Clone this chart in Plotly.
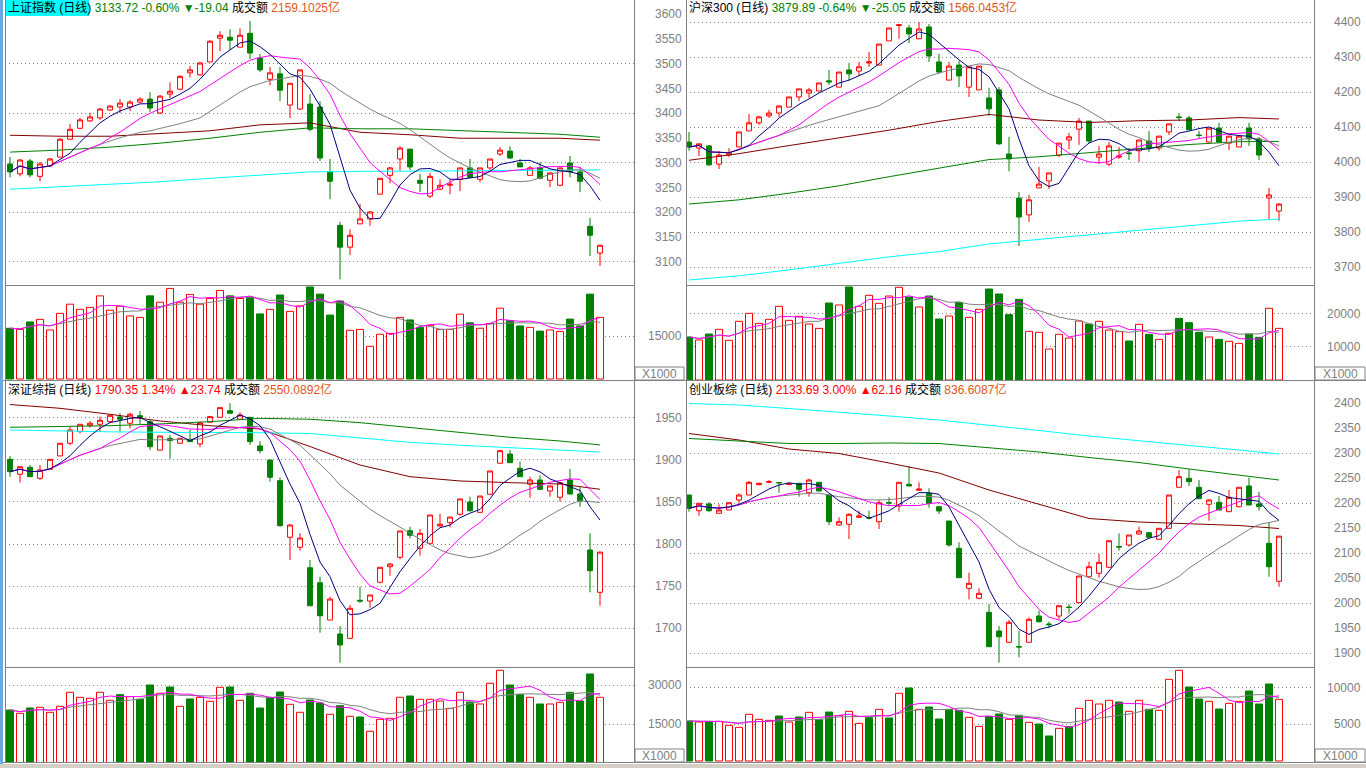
"""
四个指数日线图: K线 + 均线 + 成交量
"""
import pandas as pd
import plotly.graph_objects as go

W, H = 1366, 768
RED = '#FF0000'
GREEN = '#008000'
GRAY = '#808080'
ORANGE = '#E0561B'
FONT = "Arial, 'Liberation Sans', 'Noto Sans CJK SC', sans-serif"

# 长周期均线的取样位置(第几根K线)
MA_IDX = [0, 5, 10, 15, 20, 25, 30, 35, 40, 45, 50, 55, 59]

# ---------------- 上证指数 ----------------
SH_OPEN = [3298, 3278, 3304, 3273, 3294, 3312, 3348, 3370, 3385, 3391,
           3407, 3413, 3413, 3423, 3429, 3401, 3439, 3449, 3482, 3478,
           3504, 3552, 3554, 3534, 3562, 3512, 3469, 3480, 3417, 3409,
           3419, 3413, 3282, 3174, 3130, 3177, 3187, 3237, 3275, 3308,
           3328, 3265, 3233, 3247, 3255, 3267, 3290, 3267, 3290, 3318,
           3324, 3300, 3275, 3290, 3265, 3255, 3300, 3282, 3172, 3118]
SH_CLOSE = [3282, 3306, 3276, 3298, 3308, 3348, 3368, 3387, 3393, 3409,
            3415, 3421, 3423, 3429, 3411, 3435, 3445, 3475, 3488, 3502,
            3546, 3558, 3548, 3558, 3522, 3488, 3482, 3447, 3461, 3488,
            3368, 3310, 3263, 3130, 3154, 3187, 3201, 3269, 3290, 3330,
            3292, 3259, 3273, 3255, 3257, 3290, 3271, 3290, 3308, 3326,
            3310, 3292, 3290, 3269, 3280, 3290, 3282, 3263, 3154, 3133.72]
SH_HIGH = [3312, 3308, 3308, 3302, 3310, 3350, 3379, 3391, 3401, 3411,
           3417, 3429, 3427, 3433, 3443, 3437, 3463, 3477, 3496, 3504,
           3548, 3566, 3570, 3572, 3587, 3520, 3494, 3494, 3461, 3488,
           3439, 3425, 3308, 3181, 3166, 3217, 3203, 3269, 3292, 3334,
           3328, 3278, 3280, 3267, 3267, 3290, 3308, 3290, 3308, 3332,
           3334, 3308, 3294, 3302, 3280, 3290, 3314, 3292, 3189, 3134]
SH_LOW = [3271, 3273, 3271, 3263, 3292, 3312, 3348, 3368, 3383, 3387,
          3405, 3401, 3405, 3421, 3403, 3399, 3431, 3447, 3473, 3476,
          3504, 3526, 3528, 3534, 3510, 3484, 3457, 3425, 3391, 3407,
          3364, 3304, 3227, 3065, 3114, 3177, 3173, 3237, 3259, 3284,
          3286, 3241, 3229, 3245, 3237, 3243, 3269, 3261, 3286, 3314,
          3308, 3292, 3275, 3269, 3251, 3253, 3271, 3241, 3112, 3092]
SH_VOL = [17700, 17300, 19900, 20800, 17100, 22900, 26100, 24300, 25000, 29000,
          24000, 25400, 22000, 21500, 29000, 26800, 31600, 26800, 29500, 26100,
          28100, 30900, 29000, 28100, 28600, 22700, 24300, 29300, 23600, 25500,
          32100, 29600, 22300, 27200, 17000, 17300, 11400, 15600, 15900, 21500,
          20600, 18000, 18700, 17300, 17300, 22600, 19600, 17700, 19400, 24700,
          20300, 18500, 18000, 16700, 17100, 16600, 20900, 18500, 29600, 21500]
SH_MA60 = [3356, 3354, 3354, 3360, 3365, 3377, 3381, 3362, 3357, 3350, 3350, 3350, 3346]
SH_MA120 = [3322, 3326, 3332, 3340, 3350, 3362, 3371, 3369, 3369, 3365, 3361, 3358, 3352]
SH_MA250 = [3247, 3252, 3257, 3262, 3269, 3275, 3282, 3283, 3283, 3284, 3285, 3286, 3286]
SH_LABELS = [3600, 3550, 3500, 3450, 3400, 3350, 3300, 3250, 3200, 3150, 3100]
SH_GRID = [3100, 3200, 3300, 3400, 3500]
SH_VLABELS = [15000]

# ---------------- 沪深300 ----------------
HS_OPEN = [4057, 4040, 4046, 3994, 4020, 4043, 4089, 4112, 4132, 4140,
           4157, 4186, 4197, 4203, 4232, 4214, 4263, 4260, 4283, 4277,
           4346, 4390, 4383, 4352, 4386, 4286, 4234, 4277, 4214, 4206,
           4183, 4206, 4023, 3897, 3849, 3926, 3946, 4020, 4063, 4094,
           4117, 4014, 3994, 4014, 4026, 4032, 4060, 4040, 4086, 4129,
           4126, 4077, 4057, 4097, 4054, 4043, 4097, 4066, 3897, 3860]
HS_CLOSE = [4043, 4052, 3992, 4020, 4026, 4086, 4112, 4129, 4140, 4160,
            4186, 4209, 4206, 4226, 4229, 4257, 4252, 4272, 4286, 4337,
            4383, 4392, 4366, 4380, 4303, 4257, 4274, 4246, 4272, 4274,
            4152, 4052, 4009, 3843, 3892, 3937, 3969, 4054, 4072, 4117,
            4060, 4023, 4046, 4017, 4024, 4063, 4040, 4074, 4109, 4127,
            4092, 4076, 4097, 4057, 4074, 4074, 4066, 4020, 3906, 3879.89]
HS_HIGH = [4086, 4052, 4049, 4032, 4040, 4086, 4137, 4132, 4149, 4163,
           4186, 4209, 4212, 4226, 4263, 4257, 4283, 4286, 4314, 4337,
           4383, 4394, 4392, 4400, 4394, 4309, 4286, 4289, 4272, 4274,
           4212, 4214, 4072, 3914, 3906, 3986, 3969, 4054, 4083, 4126,
           4117, 4046, 4057, 4043, 4040, 4063, 4089, 4074, 4109, 4140,
           4132, 4089, 4097, 4112, 4074, 4074, 4112, 4072, 3926, 3883]
HS_LOW = [4032, 4017, 3989, 3980, 4014, 4043, 4089, 4106, 4126, 4129,
          4157, 4174, 4183, 4203, 4220, 4214, 4232, 4246, 4272, 4277,
          4346, 4352, 4340, 4352, 4286, 4254, 4234, 4214, 4186, 4206,
          4132, 4049, 3974, 3760, 3829, 3926, 3923, 4014, 4037, 4049,
          4054, 3994, 3989, 4009, 4006, 4000, 4029, 4032, 4077, 4117,
          4092, 4066, 4057, 4057, 4034, 4043, 4046, 4006, 3837, 3832]
HS_VOL = [13030, 12120, 13940, 15350, 12020, 17780, 20200, 17170, 18380, 22320,
          18080, 19290, 16970, 15650, 23330, 22730, 28180, 22320, 25650, 23230,
          25450, 28080, 25150, 22120, 25450, 18480, 19390, 23530, 18990, 21410,
          27570, 26060, 19800, 24440, 14750, 14440, 9390, 13840, 12730, 17880,
          16970, 17780, 15150, 14650, 11820, 16870, 13840, 12320, 14140, 18680,
          17370, 14440, 13030, 12320, 11720, 11110, 13940, 12930, 21720, 15650]
HS_MA60 = [4005, 4024, 4047, 4068, 4091, 4116, 4136, 4120, 4113, 4118, 4120, 4127, 4123]
HS_MA120 = [3880, 3892, 3911, 3932, 3958, 3983, 4007, 4015, 4027, 4040, 4050, 4058, 4059]
HS_MA250 = [3663, 3675, 3692, 3711, 3729, 3744, 3766, 3779, 3792, 3806, 3818, 3831, 3837]
HS_LABELS = [4400, 4300, 4200, 4100, 4000, 3900, 3800, 3700]
HS_GRID = [3700, 3800, 3900, 4000, 4100, 4200, 4300, 4400]
HS_VLABELS = [20000, 10000]

# ---------------- 深证综指 ----------------
SZ_OPEN = [1900.8, 1883.0, 1891.3, 1878.2, 1888.9, 1904.8, 1919.9, 1933.7, 1940.8, 1942.5,
           1945.6, 1951.2, 1943.7, 1952.7, 1945.6, 1911.6, 1925.8, 1919.9, 1924.6, 1919.1,
           1944.9, 1950.8, 1958.7, 1948.5, 1950.8, 1916.7, 1900.0, 1875.4, 1808.0, 1796.1,
           1771.8, 1753.9, 1709.5, 1692.9, 1687.7, 1733.0, 1732.1, 1754.4, 1773.0, 1784.2,
           1815.8, 1794.9, 1800.8, 1821.4, 1825.4, 1835.4, 1850.0, 1837.7, 1859.2, 1896.1,
           1907.1, 1890.1, 1871.1, 1876.2, 1863.1, 1855.6, 1876.2, 1859.5, 1792.9, 1742.5]
SZ_CLOSE = [1886.1, 1892.0, 1880.1, 1888.1, 1900.8, 1919.9, 1935.7, 1942.5, 1943.7, 1947.3,
            1953.2, 1948.5, 1954.4, 1950.4, 1915.8, 1928.6, 1923.0, 1925.8, 1921.8, 1944.4,
            1951.6, 1962.3, 1955.6, 1953.6, 1921.8, 1911.1, 1879.4, 1821.8, 1822.6, 1807.1,
            1726.5, 1714.6, 1734.5, 1679.8, 1723.5, 1732.1, 1739.3, 1772.3, 1776.2, 1815.5,
            1810.4, 1812.7, 1834.5, 1823.5, 1832.1, 1853.6, 1839.6, 1857.1, 1886.9, 1911.1,
            1896.8, 1880.1, 1876.2, 1865.1, 1869.1, 1873.0, 1859.5, 1851.5, 1768.2, 1790.35]
SZ_HIGH = [1904.8, 1892.0, 1894.0, 1894.0, 1900.8, 1919.9, 1939.6, 1942.5, 1946.4, 1951.6,
           1953.2, 1955.6, 1956.3, 1958.3, 1947.6, 1928.6, 1929.8, 1925.8, 1935.7, 1945.6,
           1951.6, 1962.3, 1967.5, 1956.8, 1950.8, 1922.6, 1900.0, 1879.4, 1823.8, 1812.7,
           1781.0, 1761.1, 1737.3, 1702.4, 1727.4, 1749.2, 1739.3, 1772.3, 1777.0, 1815.5,
           1820.6, 1817.9, 1834.5, 1835.7, 1832.1, 1853.6, 1856.3, 1857.1, 1886.9, 1911.1,
           1911.9, 1898.0, 1880.1, 1881.8, 1869.1, 1874.2, 1889.3, 1867.5, 1812.7, 1790.8]
SZ_LOW = [1880.1, 1873.0, 1880.1, 1876.2, 1888.9, 1904.8, 1917.9, 1931.8, 1938.5, 1933.7,
          1943.7, 1933.7, 1937.7, 1941.7, 1911.9, 1911.6, 1901.6, 1919.9, 1921.8, 1915.1,
          1944.9, 1950.8, 1955.6, 1948.5, 1917.9, 1908.0, 1874.2, 1820.6, 1781.0, 1792.0,
          1726.5, 1694.4, 1709.5, 1658.7, 1687.7, 1730.1, 1724.2, 1753.2, 1762.3, 1781.8,
          1806.8, 1786.1, 1800.8, 1820.6, 1819.9, 1833.7, 1838.5, 1837.7, 1859.2, 1896.1,
          1896.8, 1880.1, 1855.1, 1864.3, 1856.3, 1850.4, 1859.5, 1844.4, 1742.5, 1726.5]
SZ_VOL = [20500, 19230, 21270, 21540, 19610, 21920, 27310, 25380, 25000, 27310,
          24230, 26400, 25620, 24610, 30110, 26920, 29350, 21920, 24740, 25380,
          23850, 29230, 29350, 24230, 26920, 21270, 25240, 27420, 22690, 19610,
          24350, 23190, 18850, 22170, 18080, 17810, 12310, 16920, 17310, 25380,
          25880, 24610, 24610, 23960, 21150, 27310, 23580, 22810, 30770, 35770,
          30110, 26400, 25380, 22810, 22810, 23460, 27310, 23960, 34350, 25380]
SZ_MA60 = [1966, 1961.5, 1954.4, 1946.4, 1940.8, 1936.9, 1916, 1894, 1880.1, 1875, 1873, 1871.4, 1865.1]
SZ_MA120 = [1938.9, 1939.7, 1940.8, 1942.9, 1945.6, 1949.6, 1948.5, 1944.4, 1938.5, 1933.0, 1927.0, 1922.6, 1917.9]
SZ_MA250 = [1935.7, 1934.5, 1933.5, 1933.0, 1933.0, 1932.5, 1931.5, 1926, 1921, 1917.5, 1914.5, 1911.5, 1909.5]
SZ_LABELS = [1950, 1900, 1850, 1800, 1750, 1700]
SZ_GRID = [1700, 1750, 1800, 1850, 1900, 1950]
SZ_VLABELS = [30000, 15000]

# ---------------- 创业板综 ----------------
CY_OPEN = [2216, 2184.6, 2198, 2179.4, 2186, 2206, 2216, 2236.6, 2241.4, 2241,
           2237, 2239.4, 2220.6, 2241.4, 2216, 2156, 2157.4, 2171.4, 2171, 2162.6,
           2201, 2194, 2237.4, 2225.4, 2219.4, 2192.6, 2164, 2109.4, 2029.4, 2009.4,
           1981.4, 1944, 1921.4, 1913, 1921.4, 1974, 1958, 1974, 1992, 2000.6,
           2052.6, 2059.4, 2071.4, 2113, 2116, 2138, 2140.6, 2127.4, 2149.4, 2231.4,
           2249.4, 2231.4, 2197.4, 2201.4, 2182.6, 2192.6, 2234, 2198, 2119.4, 2043.4]
CY_CLOSE = [2189.4, 2199.4, 2184.6, 2186, 2200.6, 2216, 2241.4, 2239.4, 2242.6, 2240.4,
            2238, 2227.4, 2246, 2224, 2162.6, 2162.6, 2177.4, 2174, 2170, 2200.6,
            2200, 2241.4, 2234, 2228, 2199.4, 2184, 2116, 2050.6, 2039.4, 2019.4,
            1912.6, 1932.6, 1961.4, 1912, 1967.4, 1962.6, 1956.6, 1994.6, 1991, 2054,
            2072.6, 2081.4, 2124.6, 2112, 2136, 2144, 2131.4, 2149.4, 2216, 2252.6,
            2242.6, 2208.6, 2206, 2186, 2211.4, 2231.4, 2196, 2192.6, 2072.6, 2133.69]
CY_HIGH = [2216, 2199.4, 2202, 2197.4, 2200.6, 2219.4, 2244, 2240.6, 2246, 2242,
           2240.6, 2239.4, 2248.6, 2241.4, 2216, 2171.4, 2179.4, 2184.6, 2184.6, 2206,
           2211.4, 2241.4, 2274, 2241.4, 2229.4, 2194, 2164, 2121.4, 2060.6, 2029.4,
           1998, 1954, 1966, 1944.6, 1971.4, 1984.6, 1962.6, 1994.6, 1998, 2054,
           2082.6, 2098, 2124.6, 2139.4, 2136, 2152.6, 2142.6, 2149.4, 2216, 2266,
           2267.4, 2246, 2208, 2214, 2226, 2231.4, 2250.6, 2222, 2160.6, 2134]
CY_LOW = [2182.6, 2174.6, 2182, 2179.4, 2186, 2199.4, 2216, 2235.4, 2239.4, 2220.6,
          2235.4, 2212.6, 2212.6, 2224, 2156, 2154.6, 2128, 2171.4, 2167.4, 2148,
          2194, 2182.6, 2234, 2225.4, 2190.6, 2178, 2112.6, 2050.6, 2007.4, 2007.4,
          1912.6, 1880.6, 1921.4, 1891.4, 1921.4, 1960.6, 1949.4, 1967.4, 1979.4, 2000.6,
          2052.6, 2050.6, 2071.4, 2104.6, 2112.6, 2136, 2131.4, 2127.4, 2149.4, 2231.4,
          2234, 2208.6, 2164.6, 2186, 2182.6, 2191.4, 2196, 2184.6, 2052.6, 2032.6]
CY_VOL = [5456, 5320, 5411, 5411, 4865, 4592, 6365, 5683, 5547, 6138,
          5320, 6002, 6638, 5638, 6684, 6184, 6775, 5138, 5911, 7047,
          5865, 9229, 9957, 7047, 7366, 5729, 7047, 6911, 5956, 4729,
          6047, 6411, 5683, 6229, 5274, 5047, 3410, 4456, 4683, 7184,
          8275, 7775, 8275, 8048, 6775, 8275, 7047, 6911, 11139, 12366,
          10094, 8457, 8139, 7093, 7866, 8139, 9548, 7775, 10503, 8411]
CY_MA60 = [2339, 2326, 2308, 2299, 2280, 2260, 2226, 2197, 2169, 2162, 2159, 2155, 2149]
CY_MA120 = [2329, 2324, 2319, 2319, 2320, 2319, 2311, 2302, 2291, 2281, 2268, 2256, 2246]
CY_MA250 = [2399, 2396, 2389, 2382, 2374, 2366, 2356, 2345, 2334, 2324, 2315, 2306, 2298]
CY_LABELS = [2400, 2350, 2300, 2250, 2200, 2150, 2100, 2050, 2000, 1950, 1900]
CY_GRID = [1900, 2000, 2100, 2200, 2300]
CY_VLABELS = [10000, 5000]

# 行: (K线区上, K线区下, 量区上, 量区下), 像素
ROWS = [(0, 285, 286, 380), (381, 667, 668, 762)]

PANELS = [
    dict(name='上证指数 (日线)', quote='3133.72 -0.60% ▼-19.04', qcolor=GREEN, amount='2159.1025亿',
         o=SH_OPEN, h=SH_HIGH, l=SH_LOW, c=SH_CLOSE, v=SH_VOL, ma=(SH_MA60, SH_MA120, SH_MA250),
         labels=SH_LABELS, grid=SH_GRID, vlabels=SH_VLABELS,
         left=5, right=634, row=0, xr=[-0.5, 62.4], yr=[3053.5, 3629.2], vr=[-349, 32440],
         label_x=684, highlight=True),
    dict(name='沪深300 (日线)', quote='3879.89 -0.64% ▼-25.05', qcolor=GREEN, amount='1566.0453亿',
         o=HS_OPEN, h=HS_HIGH, l=HS_LOW, c=HS_CLOSE, v=HS_VOL, ma=(HS_MA60, HS_MA120, HS_MA250),
         labels=HS_LABELS, grid=HS_GRID, vlabels=HS_VLABELS,
         left=686, right=1314, row=0, xr=[-0.3, 62.5], yr=[3648.7, 4462.9], vr=[0, 28480],
         label_x=1363, highlight=False),
    dict(name='深证综指 (日线)', quote='1790.35 1.34% ▲23.74', qcolor=RED, amount='2550.0892亿',
         o=SZ_OPEN, h=SZ_HIGH, l=SZ_LOW, c=SZ_CLOSE, v=SZ_VOL, ma=(SZ_MA60, SZ_MA120, SZ_MA250),
         labels=SZ_LABELS, grid=SZ_GRID, vlabels=SZ_VLABELS,
         left=5, right=634, row=1, xr=[-0.5, 62.4], yr=[1653.6, 1994.0], vr=[500, 36650],
         label_x=684, highlight=False),
    dict(name='创业板综 (日线)', quote='2133.69 3.00% ▲62.16', qcolor=RED, amount='836.6087亿',
         o=CY_OPEN, h=CY_HIGH, l=CY_LOW, c=CY_CLOSE, v=CY_VOL, ma=(CY_MA60, CY_MA120, CY_MA250),
         labels=CY_LABELS, grid=CY_GRID, vlabels=CY_VLABELS,
         left=686, right=1314, row=1, xr=[-0.3, 62.5], yr=[1872, 2444], vr=[-136, 12685],
         label_x=1363, highlight=False),
]


def px(x):
    return x / W


def py(y):
    return 1 - y / H


def ref(kind, n):
    return kind + ('' if n == 1 else str(n))


def key(kind, n):
    return kind + 'axis' + ('' if n == 1 else str(n))


fig = go.Figure()
layout = {}
annotations = []
shapes = []

for k, p in enumerate(PANELS):
    n_p, n_v = 2 * k + 1, 2 * k + 2
    top, mid, vtop, bottom = ROWS[p['row']]
    idx = list(range(len(p['c'])))
    up = [c >= o for o, c in zip(p['o'], p['c'])]
    closes = pd.Series(p['c'])
    vols = pd.Series(p['v'])

    # K线
    fig.add_trace(go.Candlestick(
        x=idx, open=p['o'], high=p['h'], low=p['l'], close=p['c'],
        increasing=dict(line=dict(color=RED, width=1), fillcolor='white'),
        decreasing=dict(line=dict(color=GREEN, width=1), fillcolor=GREEN),
        whiskerwidth=0, hoverinfo='skip', showlegend=False,
        xaxis=ref('x', n_p), yaxis=ref('y', n_p)))

    # 长周期均线
    for vals, col in zip(p['ma'], ['#800000', GREEN, '#00FFFF']):
        fig.add_trace(go.Scatter(x=MA_IDX, y=vals, mode='lines', line=dict(color=col, width=1),
                                 hoverinfo='skip', showlegend=False,
                                 xaxis=ref('x', n_p), yaxis=ref('y', n_p)))
    # 短周期均线
    for win, col in [(20, GRAY), (10, '#FF00FF'), (5, '#000080')]:
        fig.add_trace(go.Scatter(x=idx, y=closes.rolling(win, min_periods=1).mean(), mode='lines',
                                 line=dict(color=col, width=1), hoverinfo='skip', showlegend=False,
                                 xaxis=ref('x', n_p), yaxis=ref('y', n_p)))

    # 成交量
    fig.add_trace(go.Bar(
        x=idx, y=p['v'], width=0.7,
        marker=dict(color=['white' if u else GREEN for u in up],
                    line=dict(color=[RED if u else GREEN for u in up], width=1)),
        hoverinfo='skip', showlegend=False, xaxis=ref('x', n_v), yaxis=ref('y', n_v)))
    for win, col in [(10, GRAY), (5, '#FF00FF')]:
        fig.add_trace(go.Scatter(x=idx, y=vols.rolling(win, min_periods=1).mean(), mode='lines',
                                 line=dict(color=col, width=1), hoverinfo='skip', showlegend=False,
                                 xaxis=ref('x', n_v), yaxis=ref('y', n_v)))

    xdom = [px(p['left']), px(p['right'])]
    grid = dict(showgrid=True, gridcolor=GRAY, gridwidth=1, griddash='1px,3px',
                showticklabels=False, ticks='', zeroline=False, showline=False, fixedrange=True)
    layout[key('x', n_p)] = dict(domain=xdom, range=p['xr'], visible=False, anchor=ref('y', n_p),
                                 rangeslider=dict(visible=False), fixedrange=True)
    layout[key('y', n_p)] = dict(domain=[py(mid), py(top)], range=p['yr'], anchor=ref('x', n_p),
                                 tickmode='array', tickvals=p['grid'], **grid)
    layout[key('x', n_v)] = dict(domain=xdom, range=p['xr'], visible=False, anchor=ref('y', n_v),
                                 fixedrange=True)
    layout[key('y', n_v)] = dict(domain=[py(bottom), py(vtop)], range=p['vr'], anchor=ref('x', n_v),
                                 tickmode='array', tickvals=p['vlabels'], **grid)

    # 坐标刻度文字
    for v in p['labels']:
        annotations.append(dict(x=px(p['label_x']), xref='paper', y=v, yref=ref('y', n_p),
                                text=str(v), showarrow=False, xanchor='right', yanchor='middle',
                                font=dict(family=FONT, size=12, color=GRAY)))
    for v in p['vlabels']:
        annotations.append(dict(x=px(p['label_x']), xref='paper', y=v, yref=ref('y', n_v),
                                text=str(v), showarrow=False, xanchor='right', yanchor='middle',
                                font=dict(family=FONT, size=12, color=GRAY)))

    # 标题
    if p['highlight']:
        shapes.append(dict(type='rect', xref='paper', yref='paper', layer='below',
                           x0=px(p['left']), x1=px(p['left'] + 84), y0=py(top + 16), y1=py(top),
                           fillcolor='#00FFFF', line=dict(width=0)))
    annotations.append(dict(
        x=px(p['left'] + 1), xref='paper', y=py(top + 8), yref='paper',
        text=(f"{p['name']} <span style='color:{p['qcolor']}'>{p['quote']}</span> 成交额 "
              f"<span style='color:{ORANGE}'>{p['amount']}</span>"),
        showarrow=False, xanchor='left', yanchor='middle',
        font=dict(family=FONT, size=12, color='black')))

# X1000 标签框
for bx0, bx1 in [(635, 684), (1315, 1365)]:
    for row in ROWS:
        yb = row[3]
        shapes.append(dict(type='rect', xref='paper', yref='paper', x0=px(bx0), x1=px(bx1),
                           y0=py(yb), y1=py(yb - 13), fillcolor='white', line=dict(color=GRAY, width=1)))
        annotations.append(dict(x=px((bx0 + bx1) / 2), xref='paper', y=py(yb - 6.5), yref='paper',
                                text='X1000', showarrow=False, xanchor='center', yanchor='middle',
                                font=dict(family=FONT, size=12, color=GRAY)))


# 边框
def hline(y, x0, x1):
    shapes.append(dict(type='line', xref='paper', yref='paper', x0=px(x0), x1=px(x1),
                       y0=py(y), y1=py(y), line=dict(color=GRAY, width=1)))


def vline(x, y0, y1):
    shapes.append(dict(type='line', xref='paper', yref='paper', x0=px(x), x1=px(x),
                       y0=py(y0), y1=py(y1), line=dict(color=GRAY, width=1)))


for x in [5.5, 634.5, 686.5, 1314.5]:
    vline(x, 0, 762)
for y in [285.5, 667.5]:
    hline(y, 5, 634)
    hline(y, 686, 1314)
hline(380.5, 0, W)
hline(762.5, 0, W)
shapes.append(dict(type='rect', xref='paper', yref='paper', x0=0, x1=px(3), y0=0, y1=1,
                   fillcolor='#6FA8DC', line=dict(width=0)))
shapes.append(dict(type='rect', xref='paper', yref='paper', x0=0, x1=1, y0=0, y1=py(764),
                   fillcolor='#D4D0C8', line=dict(width=0)))

fig.update_layout(
    width=W, height=H, autosize=False,
    margin=dict(l=0, r=0, t=0, b=0, pad=0),
    paper_bgcolor='white', plot_bgcolor='rgba(0,0,0,0)',
    showlegend=False, hovermode=False,
    annotations=annotations, shapes=shapes,
    **layout
)

# 页面去掉默认边距, 让图正好铺满窗口
fig.write_html("out.html", config={'displayModeBar': False},
               post_script="document.body.style.margin='0';document.body.style.overflow='hidden';")
